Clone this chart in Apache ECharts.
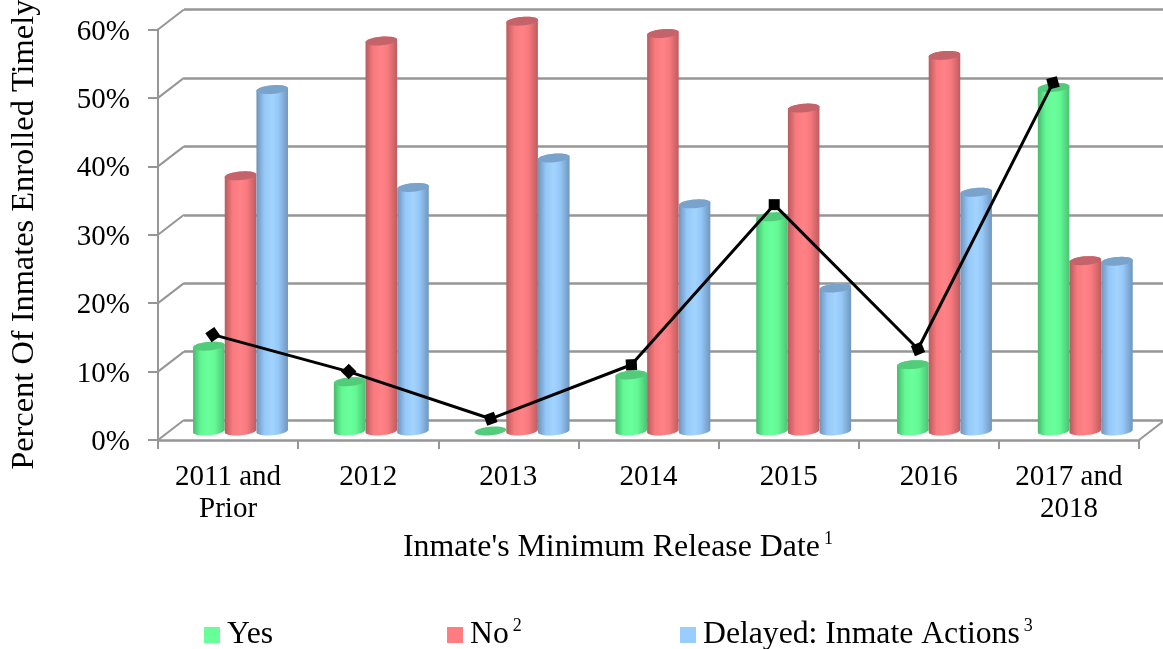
<!DOCTYPE html>
<html>
<head>
<meta charset="utf-8">
<style>html,body{margin:0;padding:0;background:#fff}#c{width:1163px;height:649px}</style>
<script src="https://cdn.jsdelivr.net/npm/echarts@6/dist/echarts.min.js"></script>
</head>
<body>
<div id="c"></div>
<script>
const categories = ['2011 and\nPrior','2012','2013','2014','2015','2016','2017 and\n2018'];
const yesValues = [12.4, 7.2, 0, 8.2, 31.3, 9.7, 50.2];
const noValues = [37.3, 57, 59.9, 58.1, 47.2, 54.9, 24.9];
const delayedValues = [49.9, 35.6, 39.9, 33.2, 20.9, 34.9, 24.8];
const yTicks = [0,10,20,30,40,50,60];
const linePosX = [0.392, 1.361, 2.373, 3.378, 4.397, 5.423, 6.386];
const lineValues = [15.4, 10, 3.1, 11, 34.4, 13.3, 52.2];
const markerRotate = [35, 45, 20, 3, 0, 22, 15];

const FONT = '"Liberation Serif","Times New Roman",serif';
const FS = 31.7;
const GRAY = '#969696';
const DX = 14.4, DY = -9;      // bar plane depth offset
const SPREAD = 0.65;           // slight perspective widening of the bar plane
const WX = 26, WY = -20;       // back wall depth offset
const TILT = -5 * Math.PI / 180;

function ellipsePts(cx, cy, rx, ry, from, to, n) {
  const pts = [];
  const c = Math.cos(TILT), s = Math.sin(TILT);
  for (let i = 0; i <= n; i++) {
    const a = from + (to - from) * i / n;
    const ex = rx * Math.cos(a), ey = ry * Math.sin(a);
    pts.push([cx + ex * c - ey * s, cy + ex * s + ey * c]);
  }
  return pts;
}

function cylinder(idx, stops, topColor) {
  return function (params, api) {
    const cat = api.value(0), v = api.value(1);
    const base = api.coord([cat, 0]);
    const top = api.coord([cat, v]);
    const catW = api.size([1, 0])[0];
    const w = catW * 0.226;
    const rx = w / 2, ry = 4.3;
    const cx = base[0] + DX + (cat - 3) * SPREAD + (idx - 1) * w;
    const yb = base[1] + DY, yt = top[1] + DY;
    const children = [];
    if (v > 0) {
      const lower = ellipsePts(cx, yb, rx, ry, Math.PI, 0, 24);
      const upper = ellipsePts(cx, yt, rx, ry, 0, -Math.PI, 24);
      children.push({
        type: 'polygon',
        shape: { points: lower.concat(upper) },
        style: { fill: new echarts.graphic.LinearGradient(0, 0, 1, 0, stops) }
      });
    }
    children.push({
      type: 'polygon',
      shape: { points: ellipsePts(cx, yt, rx, ry, 0, 2 * Math.PI, 48) },
      style: { fill: topColor }
    });
    return { type: 'group', children };
  };
}

function stopsFor(edgeL, mid, hi, edgeR) {
  return [
    { offset: 0, color: edgeL },
    { offset: 0.25, color: mid },
    { offset: 0.5, color: hi },
    { offset: 0.7, color: mid },
    { offset: 1, color: edgeR }
  ];
}

function frameItem(params, api) {
  const v = api.value(0);
  const p = api.coord([0, v]);
  const x = p[0] - api.size([1, 0])[0] / 2;
  return {
    type: 'line',
    shape: { x1: x, y1: p[1], x2: x + WX, y2: p[1] + WY },
    style: { stroke: GRAY, lineWidth: 2 }
  };
}
function floorRightItem(params, api) {
  const p = api.coord([categories.length - 1, 0]);
  const x = p[0] + api.size([1, 0])[0] / 2;
  return {
    type: 'line',
    shape: { x1: x, y1: p[1], x2: x + WX, y2: p[1] + WY },
    style: { stroke: GRAY, lineWidth: 2 }
  };
}

const titleRich = {
  t: { fontFamily: FONT, fontSize: 31.85, color: '#000', lineHeight: 36 },
  s: { fontFamily: FONT, fontSize: 18, color: '#000', lineHeight: 36, verticalAlign: 'top', padding: [0, 0, 0, 4] }
};
const legendRich = {
  t: { fontFamily: FONT, fontSize: FS, color: '#000', lineHeight: 36, padding: [0, 0, 0, 2] },
  s: titleRich.s
};

function legend(name, left, sup) {
  return {
    show: true, data: [name], left: left, top: 617, padding: 0,
    itemWidth: 16, itemHeight: 16, itemGap: 0,
    icon: 'rect',
    formatter: n => `{t|${n}}{s|${sup || ' '}}`,
    textStyle: { fontFamily: FONT, fontSize: FS, color: '#000', rich: legendRich }
  };
}

const data3 = arr => arr.map((v, i) => [i, v]);

const GRID0 = { left: 158, top: 29.5, width: 981, height: 410.5, outerBoundsMode: 'none' };

const option = {
  animation: false,
  backgroundColor: '#fff',
  title: {
    text: '{t|Inmate\'s Minimum Release Date}{s|1}',
    left: 403, top: 530, padding: 0,
    textStyle: { rich: titleRich, fontFamily: FONT, fontSize: FS, fontWeight: 'normal' }
  },
  grid: [
    GRID0,
    { left: 184, top: 9.5, width: 979, height: 410.5, outerBoundsMode: 'none' },
    Object.assign({}, GRID0)
  ],
  xAxis: [
    {
      type: 'category', gridIndex: 0, data: categories, boundaryGap: true, z: 1,
      axisLine: { onZero: false, lineStyle: { color: GRAY, width: 2.5 } },
      axisTick: { show: true, length: 9, alignWithLabel: false, lineStyle: { color: GRAY, width: 2 } },
      axisLabel: { fontFamily: FONT, fontSize: 29, color: '#000', margin: 21, lineHeight: 32, interval: 0 },
      splitLine: { show: false }
    },
    { type: 'category', gridIndex: 1, data: categories, show: false },
    { type: 'value', gridIndex: 2, min: 0, max: 7, show: false, splitLine: { show: false } }
  ],
  yAxis: [
    {
      type: 'value', gridIndex: 0, min: 0, max: 60, interval: 10, z: 1,
      axisLine: { show: true, onZero: false, lineStyle: { color: GRAY, width: 2 } },
      axisTick: { show: true, length: 10, lineStyle: { color: GRAY, width: 2 } },
      axisLabel: {
        margin: 28,
        formatter: v => `{a|${v}%}`,
        rich: { a: { fontFamily: FONT, fontSize: 29, color: '#000', padding: [5, 0, 0, 0] } }
      },
      splitLine: { show: false },
      name: 'Percent Of Inmates Enrolled Timely',
      nameLocation: 'middle', nameGap: 118, nameRotate: 90,
      nameTextStyle: { fontFamily: FONT, fontSize: 32.4, color: '#000' }
    },
    {
      type: 'value', gridIndex: 1, min: 0, max: 60, interval: 10,
      axisLine: { show: false }, axisTick: { show: false }, axisLabel: { show: false },
      splitLine: { show: true, lineStyle: { color: GRAY, width: 2.5 } }
    },
    { type: 'value', gridIndex: 2, min: 0, max: 60, show: false, splitLine: { show: false } }
  ],
  legend: [
    legend('Yes', 204, ''),
    legend('No', 447, '2'),
    legend('Delayed: Inmate Actions', 680, '3')
  ],
  series: [
    {
      type: 'custom', name: 'wall', xAxisIndex: 0, yAxisIndex: 0, silent: true, z: 1,
      data: yTicks.map(v => [v]), encode: { y: 0 }, clip: false, renderItem: frameItem
    },
    {
      type: 'custom', name: 'floor', xAxisIndex: 0, yAxisIndex: 0, silent: true, z: 1,
      data: [[0]], encode: { y: 0 }, clip: false, renderItem: floorRightItem
    },
    {
      type: 'custom', name: 'Yes', xAxisIndex: 0, yAxisIndex: 0, z: 3, clip: false,
      itemStyle: { color: '#66FF99' }, encode: { x: 0, y: 1 }, data: data3(yesValues),
      renderItem: cylinder(0, stopsFor('#49b96f', '#63f894', '#6aff9d', '#4cc274'), '#52cc7a')
    },
    {
      type: 'custom', name: 'No', xAxisIndex: 0, yAxisIndex: 0, z: 4, clip: false,
      itemStyle: { color: '#FF7C80' }, encode: { x: 0, y: 1 }, data: data3(noValues),
      renderItem: cylinder(1, stopsFor('#b95a5e', '#f87a7e', '#ff8286', '#bd5c60'), '#c4636a')
    },
    {
      type: 'custom', name: 'Delayed: Inmate Actions', xAxisIndex: 0, yAxisIndex: 0, z: 5, clip: false,
      itemStyle: { color: '#99CCFF' }, encode: { x: 0, y: 1 }, data: data3(delayedValues),
      renderItem: cylinder(2, stopsFor('#6f94b9', '#95c7f8', '#a3d4ff', '#7096bd'), '#7aa3cc')
    },
    {
      type: 'line', name: 'Line', xAxisIndex: 2, yAxisIndex: 2, z: 10, clip: false,
      data: lineValues.map((v, i) => ({ value: [linePosX[i], v], symbolRotate: markerRotate[i] })),
      symbol: 'rect', symbolSize: 11,
      lineStyle: { color: '#000', width: 3 },
      itemStyle: { color: '#000' }
    }
  ]
};
echarts.init(document.getElementById('c'), null, { renderer: 'canvas' }).setOption(option);
</script>
</body>
</html>
